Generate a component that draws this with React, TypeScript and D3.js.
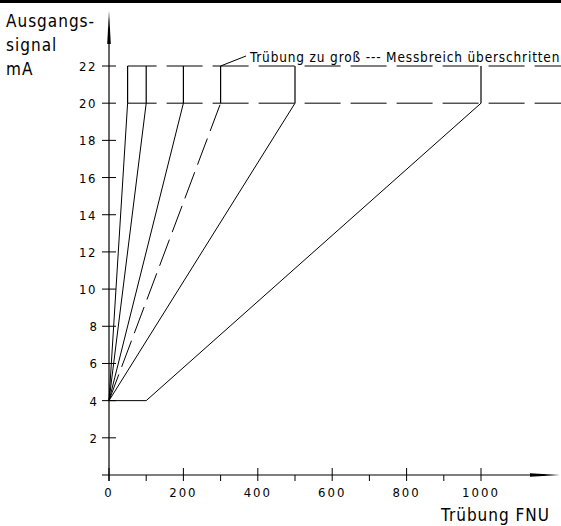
import { useRef, useEffect } from 'react'
import * as d3 from 'd3'

// Trübung (FNU) am Endpunkt 20 mA, Anfang bei 4 mA
const rangeEnds = [50, 100, 200, 300, 500]
const dashedEnds = [300]
const offsetStart = [0, 100]   // Kennlinie 4 mA bis 100 FNU, dann bis 1000
const offsetEnd = 1000
const yTicks = [2, 4, 6, 8, 10, 12, 14, 16, 18, 20, 22]
const xMajor = [0, 200, 400, 600, 800, 1000]
const xMinor = [100, 300, 500, 700, 900]
const limitLevels = [20, 22]
const limitStarts = [50]
const note = 'Trübung zu groß --- Messbreich überschritten'

const W = 561
const H = 526
const font = '"DejaVu Sans Condensed", "DejaVu Sans", sans-serif'

const App = () => {
  const ref = useRef<SVGGElement>(null)

  useEffect(() => {
    const g = d3.select(ref.current)
    g.selectAll('*').remove()

    const x = d3.scaleLinear().domain([0, 1000]).range([109, 481])
    const y = d3.scaleLinear().domain([0, 22]).range([475, 66])

    // top rule
    g.append('line').attr('x1', 0).attr('x2', W).attr('y1', 1.5).attr('y2', 1.5)
      .attr('stroke', '#000').attr('stroke-width', 3)

    // axes
    g.append('line').attr('x1', x(0)).attr('x2', x(0)).attr('y1', 481).attr('y2', 30)
      .attr('stroke', '#000').attr('stroke-width', 1.2)
    g.append('path').attr('d', `M${x(0) - 1.8},44 L${x(0)},11 L${x(0) + 1.8},44 Z`).attr('fill', '#000')
    g.append('line').attr('x1', 102).attr('x2', 545).attr('y1', y(0)).attr('y2', y(0))
      .attr('stroke', '#000').attr('stroke-width', 1.2)
    g.append('path').attr('d', `M530,${y(0) - 1.8} L560,${y(0)} L530,${y(0) + 1.8} Z`).attr('fill', '#000')

    // y ticks
    yTicks.forEach(t => {
      g.append('line').attr('x1', 102).attr('x2', 116).attr('y1', y(t)).attr('y2', y(t))
        .attr('stroke', '#000').attr('stroke-width', 1)
      g.append('text').attr('x', 97).attr('y', y(t) + 5).attr('text-anchor', 'end')
        .attr('font-family', font).attr('font-size', 13).attr('letter-spacing', t >= 10 ? 1.5 : 0)
        .text(String(t))
    })
    // x ticks
    xMajor.forEach(t => {
      g.append('line').attr('x1', x(t)).attr('x2', x(t)).attr('y1', 468).attr('y2', 481)
        .attr('stroke', '#000').attr('stroke-width', 1)
      g.append('text').attr('x', x(t)).attr('y', 497).attr('text-anchor', 'middle')
        .attr('font-family', font).attr('font-size', 13).attr('letter-spacing', 2)
        .text(String(t))
    })
    xMinor.forEach(t => {
      g.append('line').attr('x1', x(t)).attr('x2', x(t)).attr('y1', 475).attr('y2', 481)
        .attr('stroke', '#000').attr('stroke-width', 1)
    })

    // limit dashed lines
    limitLevels.forEach(l => {
      g.append('line').attr('x1', x(limitStarts[0])).attr('x2', W).attr('y1', y(l)).attr('y2', y(l))
        .attr('stroke', '#000').attr('stroke-width', 1)
        .attr('stroke-dasharray', '36,10').attr('stroke-dashoffset', 7)
    })

    // characteristic lines
    const line = d3.line<[number, number]>().x(d => x(d[0])).y(d => y(d[1]))
    rangeEnds.forEach(e => {
      g.append('path').attr('d', line([[0, 4], [e, 20]]))
        .attr('fill', 'none').attr('stroke', '#000').attr('stroke-width', 1)
        .attr('stroke-dasharray', dashedEnds.includes(e) ? '28,8' : null)
    })
    g.append('path').attr('d', line([[offsetStart[0], 4], [offsetStart[1], 4], [offsetEnd, 20]]))
      .attr('fill', 'none').attr('stroke', '#000').attr('stroke-width', 1)

    // verticals 20 -> 22
    ;[...rangeEnds, offsetEnd].forEach(e => {
      g.append('line').attr('x1', x(e)).attr('x2', x(e)).attr('y1', y(20)).attr('y2', y(22))
        .attr('stroke', '#000').attr('stroke-width', 1.2)
    })

    // note with leader
    g.append('line').attr('x1', x(300)).attr('y1', y(22)).attr('x2', 246).attr('y2', 56)
      .attr('stroke', '#000').attr('stroke-width', 1)
    g.append('text').attr('x', 250).attr('y', 62).attr('font-family', font).attr('font-size', 13.5)
      .attr('letter-spacing', 0.85).text(note)

    // axis titles
    const tt = g.append('text').attr('font-family', font).attr('font-size', 17).attr('letter-spacing', 1)
    tt.append('tspan').attr('x', 6).attr('y', 27).text('Ausgangs-')
    tt.append('tspan').attr('x', 6).attr('y', 51).text('signal')
    tt.append('tspan').attr('x', 6).attr('y', 75).text('mA')
    g.append('text').attr('x', 550).attr('y', 521).attr('text-anchor', 'end')
      .attr('font-family', font).attr('font-size', 17).attr('letter-spacing', 1).text('Trübung FNU')
  }, [])

  return (
    <svg width={W} height={H} style={{ position: 'absolute', left: 0, top: 0, background: '#fff' }}>
      <g ref={ref}></g>
    </svg>
  )
}

export default App
